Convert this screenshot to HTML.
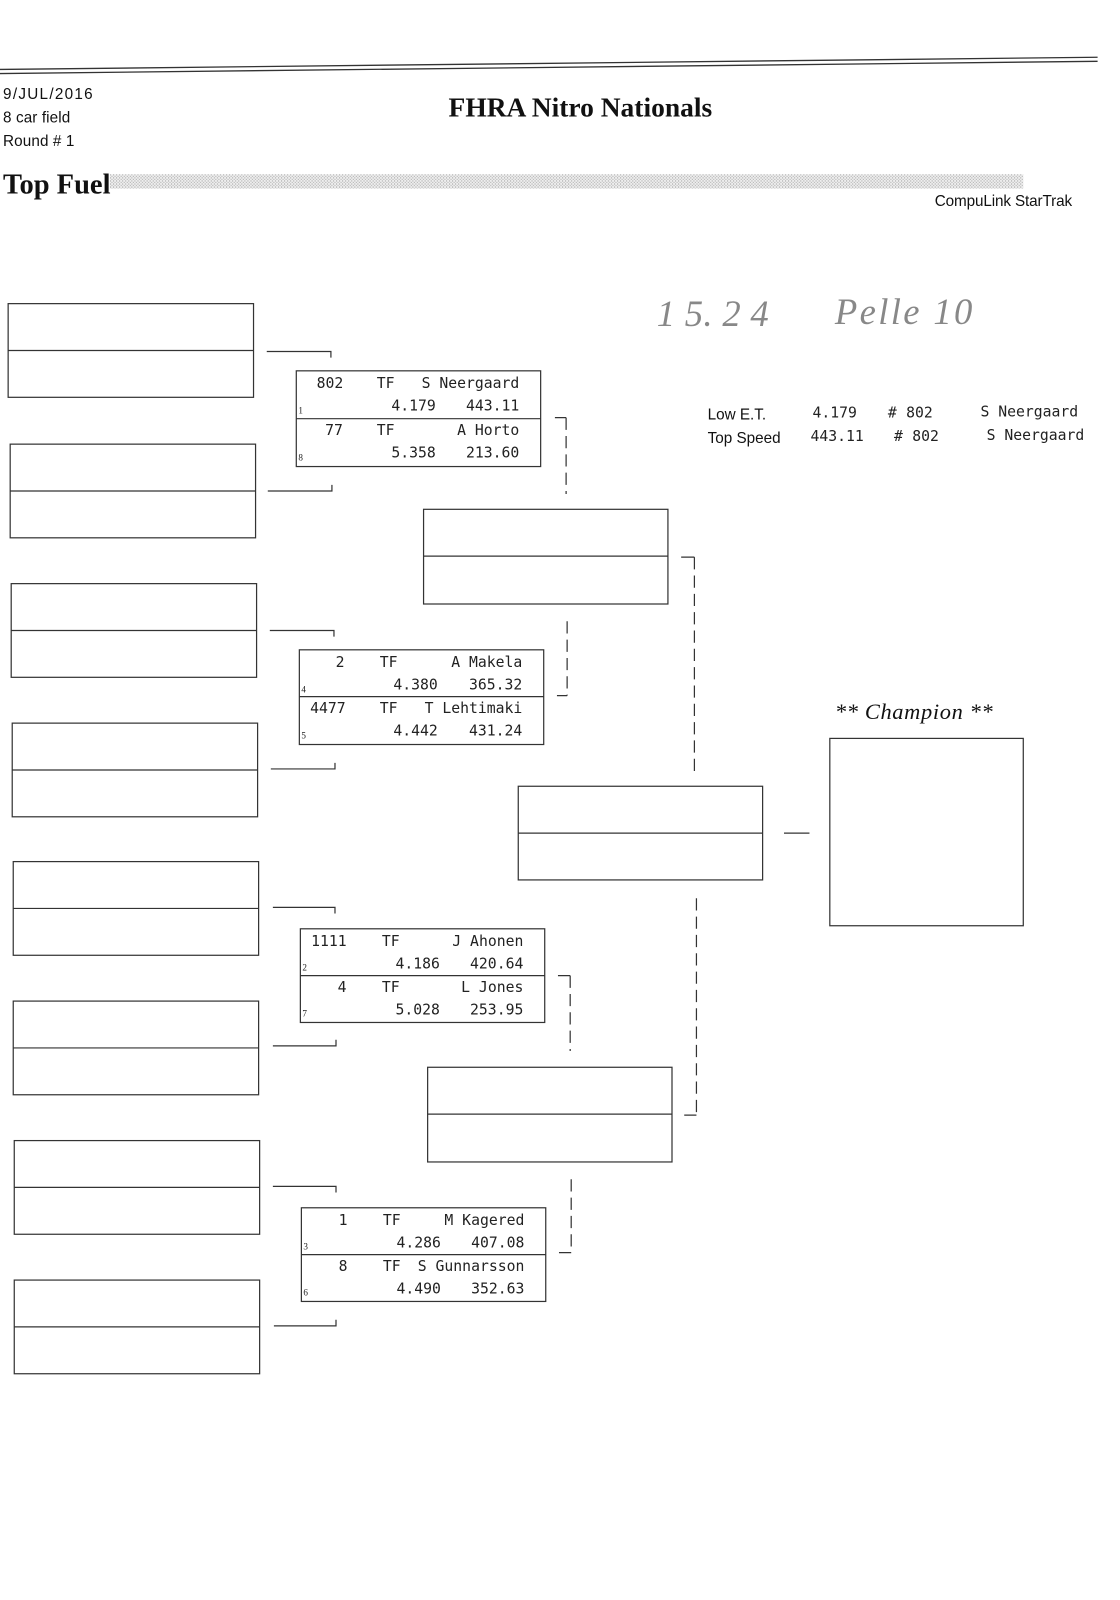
<!DOCTYPE html>
<html><head><meta charset="utf-8"><style>
html,body{margin:0;padding:0;background:#fff;width:1120px;height:1600px;overflow:hidden}
svg{display:block}
.s{font-family:"DejaVu Sans Mono","Liberation Mono",monospace;font-size:14.5px;fill:#222}
.sd{font-family:"Liberation Serif",serif;font-size:9px;fill:#222}
.sa{font-family:"Liberation Sans",sans-serif;fill:#111}
</style></head><body>
<svg width="1120" height="1600" viewBox="0 0 1100 1571" xmlns="http://www.w3.org/2000/svg">
<defs>
<pattern id="dot" width="3" height="3" patternUnits="userSpaceOnUse"><rect width="3" height="3" fill="#eee"/><rect width="1" height="1" fill="#999"/><rect x="1.5" y="1.5" width="1" height="1" fill="#aaa"/></pattern>
</defs>
<g stroke="#333" stroke-width="1.3">
<line x1="0" y1="68" x2="1078" y2="56"/>
<line x1="0" y1="72" x2="1078" y2="60"/>
</g>
<text x="3" y="97" class="sa" font-size="15" textLength="88">9/JUL/2016</text>
<text x="3" y="120" class="sa" font-size="15" textLength="66">8 car field</text>
<text x="3" y="143" class="sa" font-size="15" textLength="70">Round # 1</text>
<text x="570" y="114" text-anchor="middle" font-family="Liberation Serif,serif" font-weight="bold" font-size="27" fill="#111">FHRA Nitro Nationals</text>
<text x="3" y="190" font-family="Liberation Serif,serif" font-weight="bold" font-size="28" fill="#111">Top Fuel</text>
<rect x="108" y="171" width="897" height="14" fill="url(#dot)"/>
<text x="918" y="202" class="sa" font-size="15" textLength="135">CompuLink StarTrak</text>
<text x="645" y="320" font-family="Liberation Serif,serif" font-style="italic" font-size="36" fill="#888" textLength="110">1 5. 2 4</text>
<text x="820" y="318" font-family="Liberation Serif,serif" font-style="italic" font-size="36" fill="#888" textLength="135">Pelle 10</text>
<g fill="none" stroke="#333" stroke-width="1.2">
<rect x="8" y="298" width="241" height="92"/><line x1="8" y1="344" x2="249" y2="344"/>
<rect x="10" y="436" width="241" height="92"/><line x1="10" y1="482" x2="251" y2="482"/>
<rect x="11" y="573" width="241" height="92"/><line x1="11" y1="619" x2="252" y2="619"/>
<rect x="12" y="710" width="241" height="92"/><line x1="12" y1="756" x2="253" y2="756"/>
<rect x="13" y="846" width="241" height="92"/><line x1="13" y1="892" x2="254" y2="892"/>
<rect x="13" y="983" width="241" height="92"/><line x1="13" y1="1029" x2="254" y2="1029"/>
<rect x="14" y="1120" width="241" height="92"/><line x1="14" y1="1166" x2="255" y2="1166"/>
<rect x="14" y="1257" width="241" height="92"/><line x1="14" y1="1303" x2="255" y2="1303"/>
<rect x="291" y="364" width="240" height="94"/><line x1="291" y1="411" x2="531" y2="411"/>
<rect x="294" y="638" width="240" height="93"/><line x1="294" y1="684" x2="534" y2="684"/>
<rect x="295" y="912" width="240" height="92"/><line x1="295" y1="958" x2="535" y2="958"/>
<rect x="296" y="1186" width="240" height="92"/><line x1="296" y1="1232" x2="536" y2="1232"/>
<rect x="416" y="500" width="240" height="93"/><line x1="416" y1="546" x2="656" y2="546"/>
<rect x="420" y="1048" width="240" height="93"/><line x1="420" y1="1094" x2="660" y2="1094"/>
<rect x="509" y="772" width="240" height="92"/><line x1="509" y1="818" x2="749" y2="818"/>
<rect x="815" y="725" width="190" height="184"/>
<path d="M262 345H325V351M263 482H326V476M265 619H328V625M266 755H329V749M268 891H329V897M268 1027H330V1021M268 1165H330V1171M269 1302H330V1296"/>
<path d="M545 410H556M547 683H557M669 547H682M672 1095H684M548 958H560M549 1230H561M770 818H795"/>
<g stroke-dasharray="12,6">
<path d="M556 410V485M557 610V683M682 547V757M684 882V1095M560 958V1032M561 1158V1230"/>
</g>
</g>
<g class="s">
<text x="324" y="381" text-anchor="middle">802</text><text x="370" y="381">TF</text><text x="510" y="381" text-anchor="end">S Neergaard</text>
<text x="428" y="403" text-anchor="end">4.179</text><text x="510" y="403" text-anchor="end">443.11</text>
<text x="328" y="427" text-anchor="middle">77</text><text x="370" y="427">TF</text><text x="510" y="427" text-anchor="end">A Horto</text>
<text x="428" y="449" text-anchor="end">5.358</text><text x="510" y="449" text-anchor="end">213.60</text>

<text x="334" y="655" text-anchor="middle">2</text><text x="373" y="655">TF</text><text x="513" y="655" text-anchor="end">A Makela</text>
<text x="430" y="677" text-anchor="end">4.380</text><text x="513" y="677" text-anchor="end">365.32</text>
<text x="322" y="700" text-anchor="middle">4477</text><text x="373" y="700">TF</text><text x="513" y="700" text-anchor="end">T Lehtimaki</text>
<text x="430" y="722" text-anchor="end">4.442</text><text x="513" y="722" text-anchor="end">431.24</text>

<text x="323" y="929" text-anchor="middle">1111</text><text x="375" y="929">TF</text><text x="514" y="929" text-anchor="end">J Ahonen</text>
<text x="432" y="951" text-anchor="end">4.186</text><text x="514" y="951" text-anchor="end">420.64</text>
<text x="336" y="974" text-anchor="middle">4</text><text x="375" y="974">TF</text><text x="514" y="974" text-anchor="end">L Jones</text>
<text x="432" y="996" text-anchor="end">5.028</text><text x="514" y="996" text-anchor="end">253.95</text>

<text x="337" y="1203" text-anchor="middle">1</text><text x="376" y="1203">TF</text><text x="515" y="1203" text-anchor="end">M Kagered</text>
<text x="433" y="1225" text-anchor="end">4.286</text><text x="515" y="1225" text-anchor="end">407.08</text>
<text x="337" y="1248" text-anchor="middle">8</text><text x="376" y="1248">TF</text><text x="515" y="1248" text-anchor="end">S Gunnarsson</text>
<text x="433" y="1270" text-anchor="end">4.490</text><text x="515" y="1270" text-anchor="end">352.63</text>

<text x="798" y="410">4.179</text><text x="872" y="410">#</text><text x="890" y="410">802</text><text x="963" y="409">S Neergaard</text>
<text x="796" y="433">443.11</text><text x="878" y="433">#</text><text x="896" y="433">802</text><text x="969" y="432">S Neergaard</text>
</g>
<g class="sd">
<text x="293" y="406">1</text><text x="293" y="452">8</text>
<text x="296" y="680">4</text><text x="296" y="725">5</text>
<text x="297" y="953">2</text><text x="297" y="998">7</text>
<text x="298" y="1227">3</text><text x="298" y="1272">6</text>
</g>
<text x="695" y="412" class="sa" font-size="15">Low  E.T.</text>
<text x="695" y="435" class="sa" font-size="15">Top Speed</text>
<text x="820" y="706" font-family="Liberation Serif,serif" font-style="italic" font-size="22" fill="#111" textLength="155">** Champion **</text>
</svg>
</body></html>
